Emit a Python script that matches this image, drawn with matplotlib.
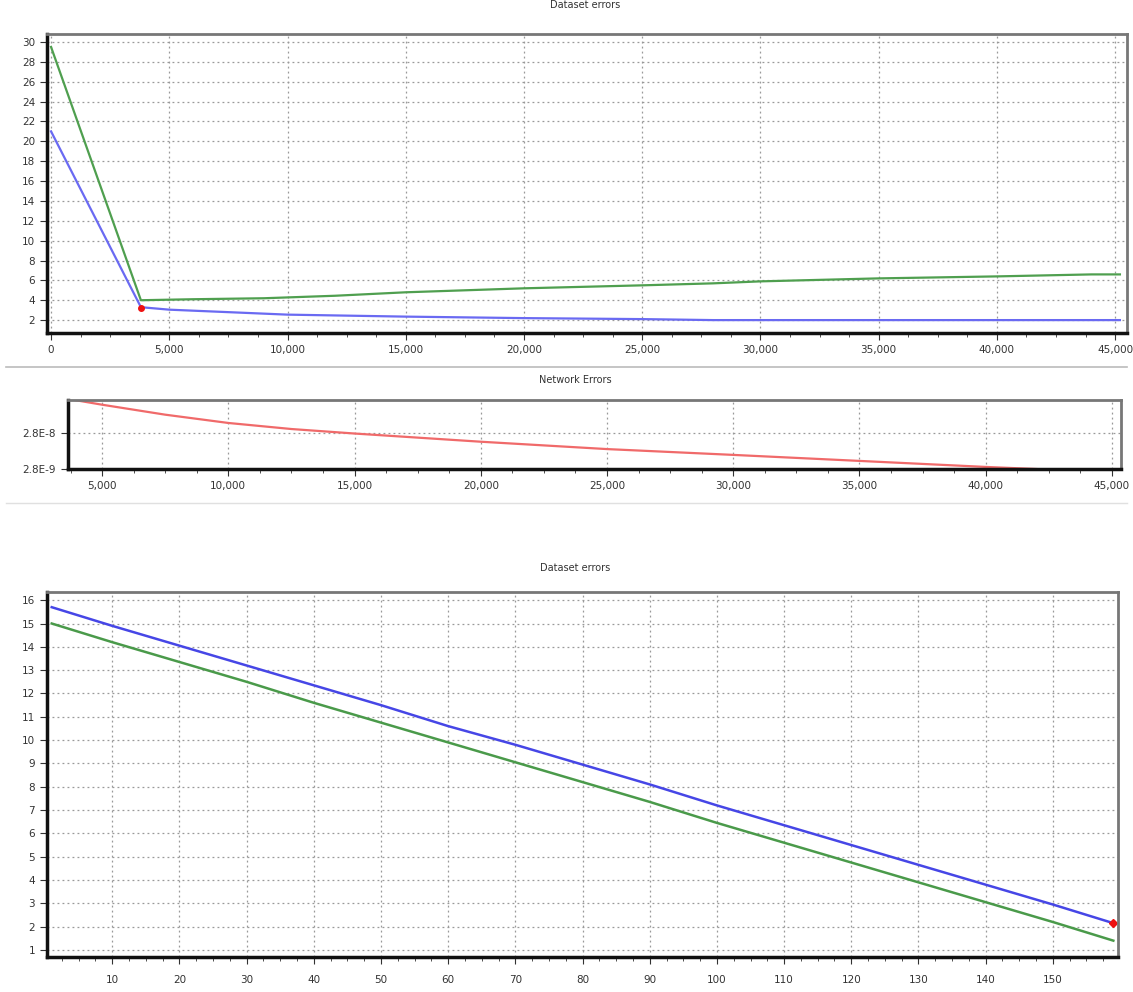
import numpy as np
import matplotlib.pyplot as plt
from matplotlib.ticker import FuncFormatter, MultipleLocator, FixedLocator
from matplotlib.lines import Line2D

# Top chart: dataset errors over iterations
top_x_green = [0, 3800, 6000, 9000, 12000, 15000, 20000, 25000, 28000, 30000, 35000, 40000, 44000, 45200]
top_green = [29.5, 4.0, 4.1, 4.2, 4.45, 4.8, 5.2, 5.5, 5.7, 5.9, 6.2, 6.4, 6.6, 6.6]
top_x_blue = [0, 3800, 5000, 7500, 10000, 15000, 20000, 25000, 28000, 35000, 45200]
top_blue = [21.0, 3.3, 3.05, 2.8, 2.55, 2.35, 2.2, 2.1, 2.0, 2.0, 2.0]
top_best = (3800, 3.2)

# Middle chart: network errors (log scale)
net_x = [3900, 5000, 7500, 10000, 12500, 15000, 20000, 25000, 30000, 35000, 40000, 42000]
net_err = [2.3e-7, 1.7e-7, 9.0e-8, 5.3e-8, 3.6e-8, 2.7e-8, 1.6e-8, 1.0e-8, 6.9e-9, 4.7e-9, 3.2e-9, 2.8e-9]

# Bottom chart: dataset errors over epochs
bot_x = [1, 10, 20, 30, 40, 50, 60, 70, 80, 90, 100, 110, 120, 130, 140, 150, 159]
bot_blue = [15.7, 14.9, 14.05, 13.2, 12.35, 11.5, 10.6, 9.8, 8.95, 8.1, 7.2, 6.35, 5.5, 4.65, 3.8, 2.95, 2.15]
bot_green = [15.0, 14.2, 13.35, 12.5, 11.6, 10.75, 9.9, 9.05, 8.2, 7.35, 6.45, 5.6, 4.75, 3.9, 3.05, 2.2, 1.4]

grid_kw = dict(color='#999999', linestyle=(0, (1.5, 2.5)), linewidth=0.9)
comma = FuncFormatter(lambda v, p: '{:,.0f}'.format(v))


def style_axes(ax):
    ax.grid(True, **grid_kw)
    for s in ['left', 'bottom']:
        ax.spines[s].set_linewidth(2.5)
        ax.spines[s].set_color('#111111')
    for s in ['top', 'right']:
        ax.spines[s].set_linewidth(2.0)
        ax.spines[s].set_color('#777777')
    ax.tick_params(labelsize=7.5, colors='#333333', length=5, width=0.8,
                   direction='out')
    ax.tick_params(which='minor', length=3, color='#333333')


fig = plt.figure(figsize=(11.33, 9.92), dpi=100)

# top chart
ax1 = fig.add_axes([0.0415, 0.6643, 0.9532, 0.3014])
ax1.plot(top_x_green, top_green, color='#4f9f4f', linewidth=1.6)
ax1.plot(top_x_blue, top_blue, color='#6a6af2', linewidth=1.6)
ax1.plot(*top_best, marker='o', color='#ee1111', markersize=4)
ax1.set_xlim(-170, 45500)
ax1.set_ylim(0.7, 30.8)
ax1.xaxis.set_major_locator(MultipleLocator(5000))
ax1.xaxis.set_minor_locator(MultipleLocator(1250))
ax1.xaxis.set_major_formatter(comma)
ax1.set_yticks(np.arange(2, 31, 2))
style_axes(ax1)
fig.text(0.516, 0.995, 'Dataset errors', ha='center', va='center', fontsize=7, color='#333333')

# separator lines like the screenshot panels
fig.add_artist(Line2D([0.005, 0.995], [1 - 367 / 992] * 2, color='#bbbbbb', linewidth=1.2))
fig.add_artist(Line2D([0.005, 0.995], [1 - 503 / 992] * 2, color='#e0e0e0', linewidth=1.0))

# middle chart
ax2 = fig.add_axes([0.0600, 0.5272, 0.9294, 0.0696])
ax2.plot(net_x, net_err, color='#f06a6a', linewidth=1.6)
ax2.set_yscale('log')
ax2.set_xlim(3650, 45360)
ax2.set_ylim(2.8e-9, 2.3e-7)
ax2.xaxis.set_major_locator(MultipleLocator(5000))
ax2.xaxis.set_minor_locator(MultipleLocator(1250))
ax2.xaxis.set_major_formatter(comma)
ax2.yaxis.set_major_locator(FixedLocator([2.8e-9, 2.8e-8]))
ax2.yaxis.set_minor_locator(FixedLocator([]))
ax2.set_yticklabels(['2.8E-9', '2.8E-8'])
style_axes(ax2)
fig.text(0.508, 1 - 380 / 992, 'Network Errors', ha='center', va='center', fontsize=7, color='#333333')

# bottom chart
ax3 = fig.add_axes([0.0415, 0.0353, 0.9453, 0.3679])
ax3.plot(bot_x, bot_blue, color='#4646e6', linewidth=1.8)
ax3.plot(bot_x, bot_green, color='#4a9a4a', linewidth=1.8)
ax3.plot(bot_x[-1], bot_blue[-1], marker='D', color='#ee1111', markersize=4)
ax3.set_xlim(0.3, 159.7)
ax3.set_ylim(0.7, 16.35)
ax3.xaxis.set_minor_locator(MultipleLocator(2.5))
ax3.set_xticks(np.arange(10, 151, 10))
ax3.set_yticks(np.arange(1, 17, 1))
style_axes(ax3)
ax3.tick_params(axis='x', pad=8)
fig.text(0.508, 1 - 568 / 992, 'Dataset errors', ha='center', va='center', fontsize=7, color='#333333')

plt.savefig('out.png', dpi=100)
